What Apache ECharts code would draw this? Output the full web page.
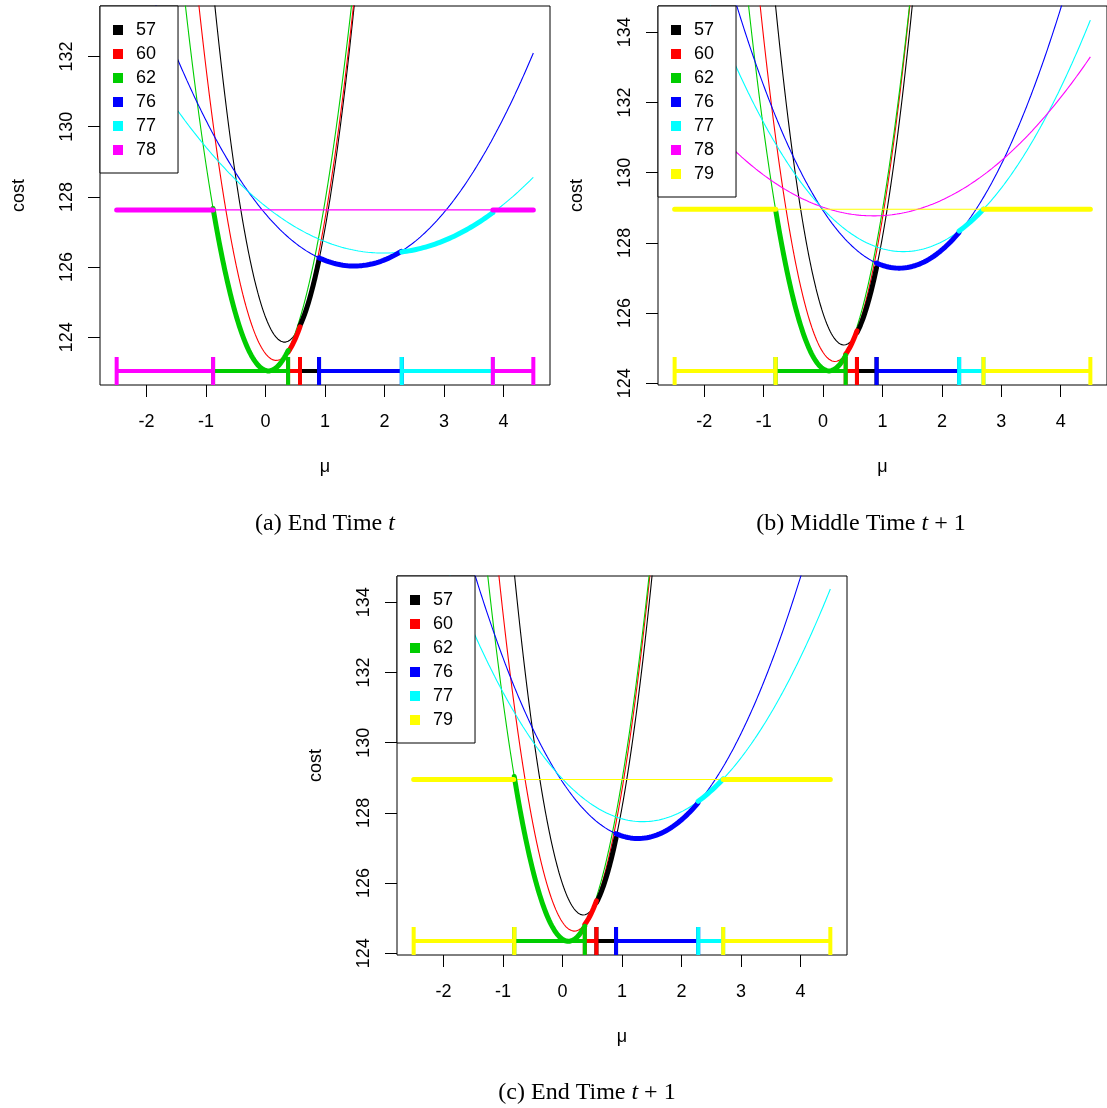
<!DOCTYPE html>
<html><head><meta charset="utf-8">
<script src="https://cdn.jsdelivr.net/npm/echarts@6/dist/echarts.min.js"></script>
<style>html,body{margin:0;padding:0;background:#fff}#c{width:1107px;height:1108px}</style>
</head><body><div id="c"></div>
<script>
// ---------- data ----------
const colors = {'57':'#000000','60':'#FF0000','62':'#00CD00','76':'#0000FF','77':'#00FFFF','78':'#FF00FF','79':'#FFFF00'};
const muDomain = [-2.5, 4.5];
const xLimits = [-2.78, 4.78];
const xTicks = [-2, -1, 0, 1, 2, 3, 4];

// Panel (a) End Time t : cost = vertexCost + curvature * (mu - vertexMu)^2
const aCurves      = ['57', '60', '62', '76', '77', '78'];
const aVertexMu    = [0.32, 0.18, 0.05, 1.49, 1.98, 0.00];
const aVertexCost  = [123.86, 123.34, 123.04, 126.03, 126.40, 127.63];
const aCurvature   = [7.0, 6.0, 5.35, 0.67, 0.34, 0.0];
const aBreaks      = [-2.5, -0.88, 0.38, 0.58, 0.90, 2.29, 3.82, 4.5];
const aOwners      = ['78', '62', '60', '57', '76', '77', '78'];
const aMinCost     = 123.04;
const aYLimits     = [122.64, 133.44];
const aYTicks      = [124, 126, 128, 130, 132];

// Panel (b) Middle Time t+1
const bCurves      = ['57', '60', '62', '76', '77', '78', '79'];
const bVertexMu    = [0.35, 0.20, 0.10, 1.28, 1.35, 0.85, 0.00];
const bVertexCost  = [125.09, 124.62, 124.35, 127.28, 127.75, 128.77, 128.96];
const bCurvature   = [7.3, 6.39, 5.67, 1.0, 0.665, 0.34, 0.0];
const bBreaks      = [-2.5, -0.80, 0.38, 0.57, 0.90, 2.29, 2.70, 4.5];
const bOwners      = ['79', '62', '60', '57', '76', '77', '79'];
const bMinCost     = 124.35;
const bYLimits     = [123.95, 134.75];
const bYTicks      = [124, 126, 128, 130, 132, 134];

// Panel (c) End Time t+1
const cCurves      = ['57', '60', '62', '76', '77', '79'];
const cVertexMu    = [0.35, 0.20, 0.10, 1.27, 1.35, 0.00];
const cVertexCost  = [125.09, 124.63, 124.34, 127.27, 127.75, 128.95];
const cCurvature   = [7.25, 6.3, 5.67, 1.0, 0.668, 0.0];
const cBreaks      = [-2.5, -0.81, 0.375, 0.57, 0.90, 2.28, 2.70, 4.5];
const cOwners      = ['79', '62', '60', '57', '76', '77', '79'];
const cMinCost     = 124.35;
const cYLimits     = [123.95, 134.75];
const cYTicks      = [124, 126, 128, 130, 132, 134];

const captions = ['(a) End Time {i|t}', '(b) Middle Time {i|t} + 1', '(c) End Time {i|t} + 1'];

// ---------- build ----------
const panels = [
  {ids:aCurves, vm:aVertexMu, vc:aVertexCost, k:aCurvature, br:aBreaks, own:aOwners, minC:aMinCost, yl:aYLimits, yt:aYTicks},
  {ids:bCurves, vm:bVertexMu, vc:bVertexCost, k:bCurvature, br:bBreaks, own:bOwners, minC:bMinCost, yl:bYLimits, yt:bYTicks},
  {ids:cCurves, vm:cVertexMu, vc:cVertexCost, k:cCurvature, br:cBreaks, own:cOwners, minC:cMinCost, yl:cYLimits, yt:cYTicks}
];
const gridPos = [
  {left:100, top:6, width:450, height:379},
  {left:658, top:6, width:452, height:379},
  {left:397, top:576, width:450, height:379}
];
const captionPos = [[325, 524], [861, 524], [587, 1093]];

function sampleMu(lo, hi){
  const pts = []; const n = Math.max(2, Math.round((hi - lo) / 0.01));
  for (let j = 0; j <= n; j++) pts.push(lo + (hi - lo) * j / n);
  return pts;
}
function val(p, i, mu){ return p.vc[i] + p.k[i] * (mu - p.vm[i]) * (mu - p.vm[i]); }

const FONT = 'Liberation Sans, Arial, sans-serif';
const series = [], grids = [], xAxes = [], yAxes = [], legends = [];
panels.forEach((p, g) => {
  grids.push(Object.assign({show:true, borderColor:'#000', borderWidth:1, backgroundColor:'transparent'}, gridPos[g]));
  xAxes.push({type:'value', gridIndex:g, min:xLimits[0], max:xLimits[1],
    name:'μ', nameLocation:'middle', nameGap:73, nameTextStyle:{fontSize:18, color:'#000', fontFamily:FONT},
    axisLine:{show:false, onZero:false}, splitLine:{show:false},
    axisTick:{show:true, length:12, customValues:xTicks, lineStyle:{color:'#000', width:1}},
    axisLabel:{customValues:xTicks, fontSize:18, color:'#000', fontFamily:FONT, margin:28}});
  yAxes.push({type:'value', gridIndex:g, min:p.yl[0], max:p.yl[1],
    name:'cost', nameLocation:'middle', nameGap:72, nameRotate:90, nameTextStyle:{fontSize:18, color:'#000', fontFamily:FONT},
    axisLine:{show:false, onZero:false}, splitLine:{show:false},
    axisTick:{show:true, length:12, customValues:p.yt, lineStyle:{color:'#000', width:1}},
    axisLabel:{customValues:p.yt, fontSize:18, color:'#000', fontFamily:FONT, rotate:90, margin:24}});
  legends.push({show:true, orient:'vertical', left:gridPos[g].left, top:gridPos[g].top,
    padding:[15, 22, 14, 13], itemWidth:10, itemHeight:10, itemGap:6, icon:'rect',
    backgroundColor:'#fff', borderColor:'#000', borderWidth:1, borderRadius:0, selectedMode:false, z:20,
    textStyle:{fontSize:18, color:'#000', fontFamily:FONT, lineHeight:18, padding:[0,0,0,8]},
    data:p.ids.map(id => ({name:id, itemStyle:{color:colors[id]}}))});
  // thin curves
  p.ids.forEach((id, i) => {
    series.push({type:'line', name:id, xAxisIndex:g, yAxisIndex:g, showSymbol:false, silent:true, z:2,
      itemStyle:{color:colors[id]}, lineStyle:{width:1.1, color:colors[id]},
      data:sampleMu(muDomain[0], muDomain[1]).map(m => [m, val(p, i, m)])});
  });
  // thick lower-envelope segments
  p.ids.forEach((id, i) => {
    const d = [];
    p.own.forEach((o, s) => {
      if (o !== id) return;
      if (d.length) d.push([null, null]);
      sampleMu(p.br[s], p.br[s+1]).forEach(m => d.push([m, val(p, i, m)]));
    });
    if (!d.length) return;
    series.push({type:'line', name:id + ' env', xAxisIndex:g, yAxisIndex:g, showSymbol:false, silent:true, z:3,
      itemStyle:{color:colors[id]}, lineStyle:{width:5, color:colors[id], cap:'round', join:'round'}, data:d});
  });
  // interval bar at the minimum cost
  p.ids.forEach((id) => {
    const d = [];
    const h = 0.4;
    p.own.forEach((o, s) => {
      if (o !== id) return;
      const lo = p.br[s], hi = p.br[s+1];
      if (d.length) d.push([null, null]);
      d.push([lo, p.minC], [hi, p.minC], [null, null],
             [lo, p.minC - h], [lo, p.minC + h], [null, null],
             [hi, p.minC - h], [hi, p.minC + h]);
    });
    if (!d.length) return;
    series.push({type:'line', name:id + ' bar', xAxisIndex:g, yAxisIndex:g, showSymbol:false, silent:true, z:4,
      itemStyle:{color:colors[id]}, lineStyle:{width:4, color:colors[id]}, data:d});
  });
});

const graphics = captions.map((t, g) => ({type:'text', x:captionPos[g][0], y:captionPos[g][1],
  style:{text:t, fill:'#000', font:'24px "Liberation Serif", serif', align:'center', verticalAlign:'middle',
    rich:{i:{fontStyle:'italic', fontSize:24, fontFamily:'Liberation Serif'}}}}));

const chart = echarts.init(document.getElementById('c'), null, {renderer:'canvas'});
chart.setOption({animation:false, grid:grids, xAxis:xAxes, yAxis:yAxes, legend:legends, series:series, graphic:graphics});
</script></body></html>
